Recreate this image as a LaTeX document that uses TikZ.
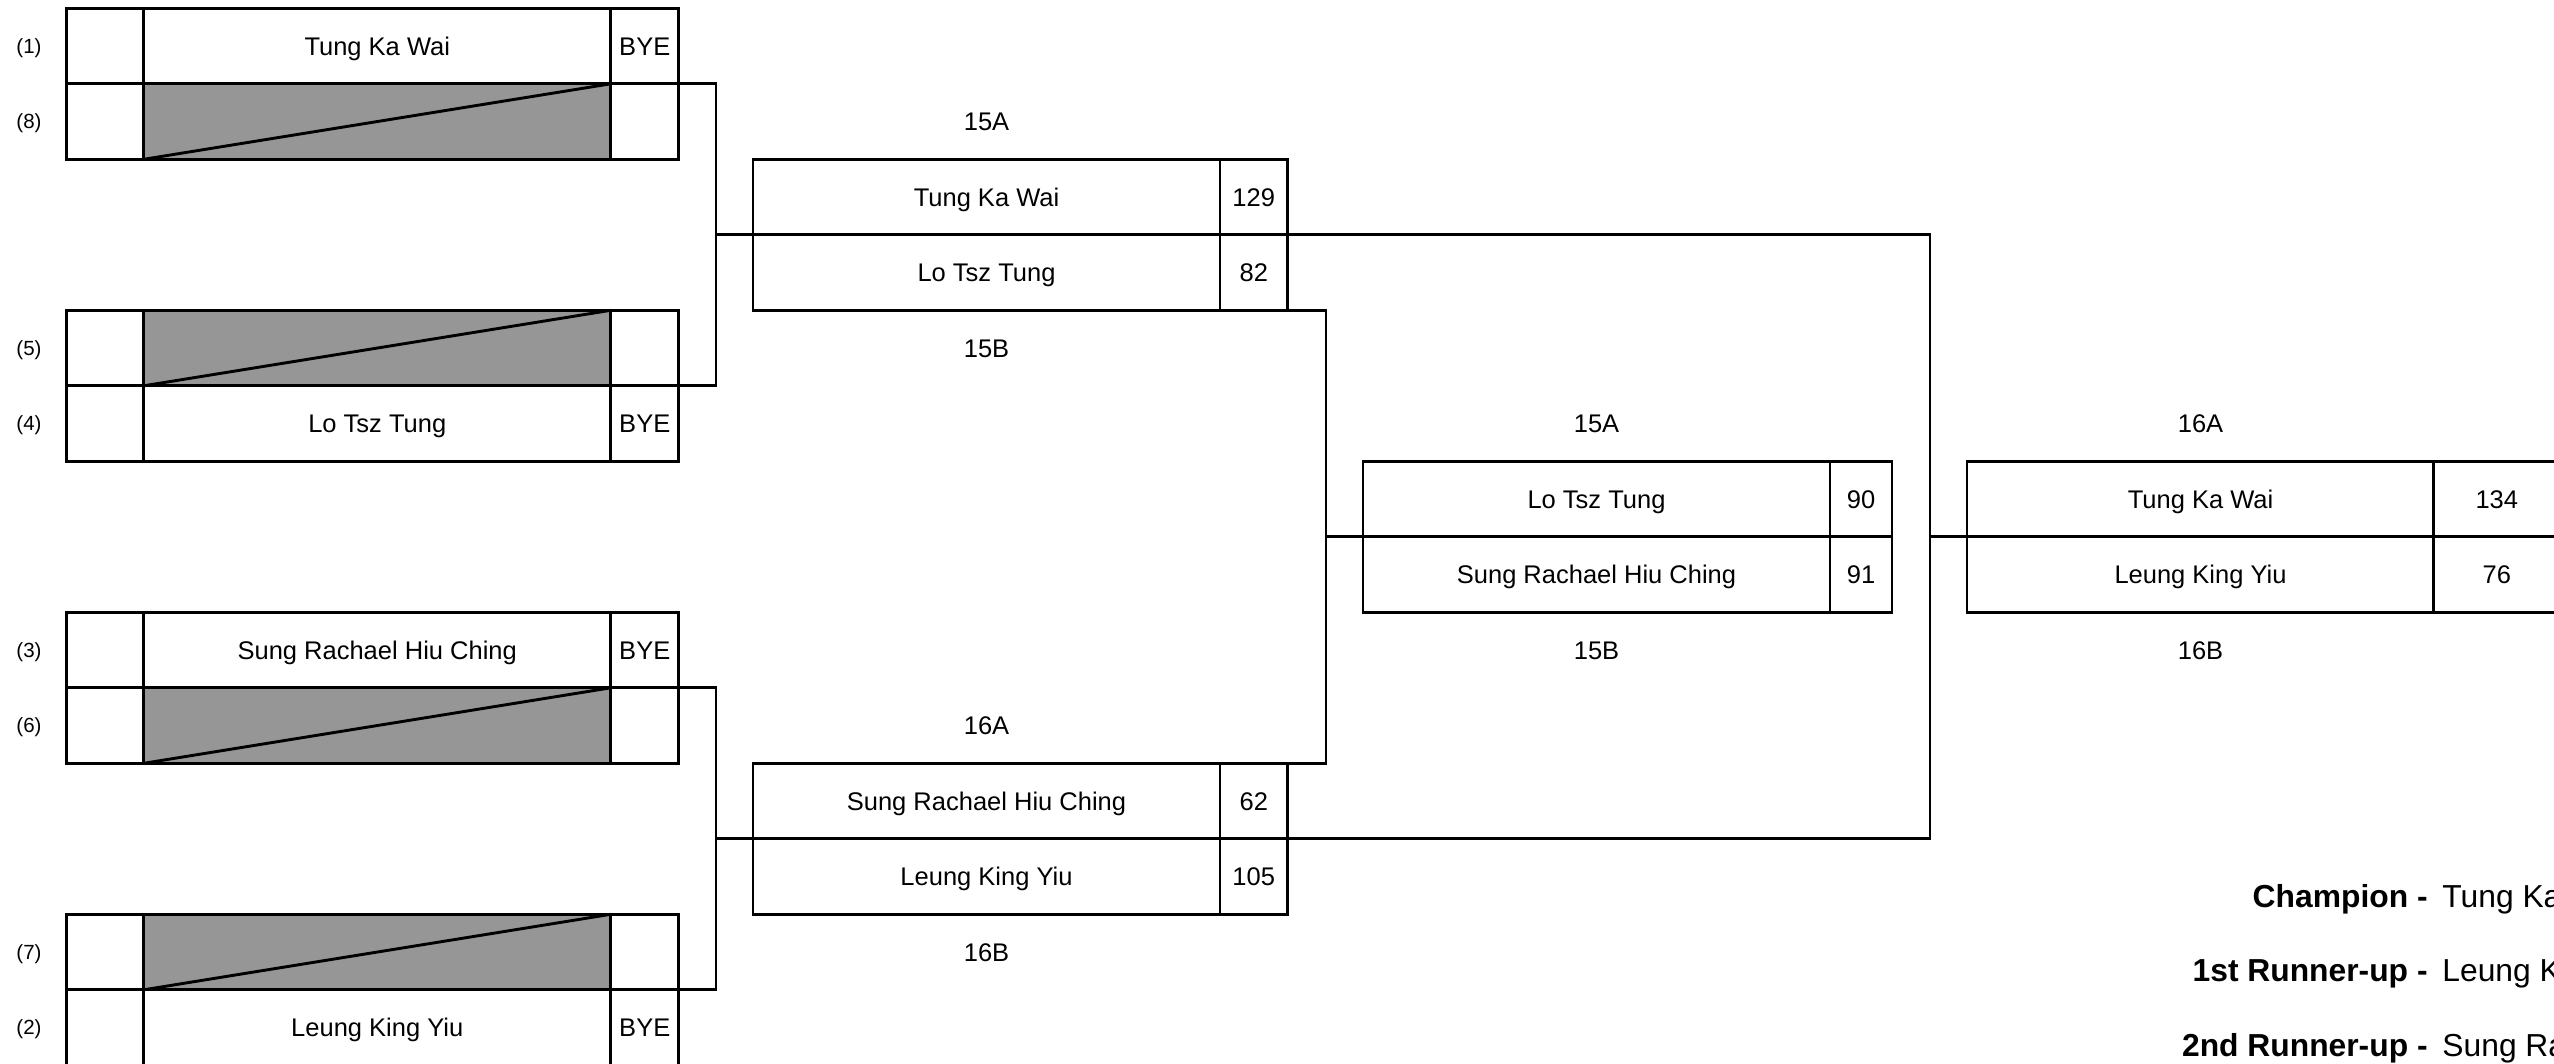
\documentclass[tikz,border=0pt]{standalone}
\usepackage{fontspec}
\setmainfont{Liberation Sans}
\usepackage{pgf, tikz}
\pgfdeclarelayer{edgelayer}
\pgfdeclarelayer{nodelayer}
\pgfsetlayers{edgelayer,nodelayer,main}
\definecolor{byegray}{RGB}{150,150,150}
\tikzstyle{edge}=[draw=black, line width=1.45pt]
\tikzstyle{cell}=[rectangle, draw=black, line width=1.45pt, inner sep=0pt, outer sep=0pt, minimum height=37.75pt, text height=9.1pt, text depth=0pt, font=\fontsize{12.75}{15}\selectfont]
\tikzstyle{seedcell}=[cell, minimum width=38.5pt]
\tikzstyle{namecell}=[cell, minimum width=233.5pt]
\tikzstyle{scorecell}=[cell, minimum width=33.75pt]
\tikzstyle{byecell}=[namecell, fill=byegray]
\tikzstyle{seed}=[inner sep=0pt, text height=7.3pt, text depth=0pt, font=\fontsize{10.25}{12}\selectfont]
\tikzstyle{matchlabel}=[inner sep=0pt, text height=9.1pt, text depth=0pt, font=\fontsize{12.75}{15}\selectfont]
\tikzstyle{podium}=[inner sep=0pt, font=\fontsize{15.9}{18}\selectfont]

\begin{document}
\begin{tikzpicture}[x=0.5pt, y=-0.5pt]
			\useasboundingbox (0, 0) rectangle (2554, 1064);
			\begin{pgfonlayer}{nodelayer}
				% first round
				\node [style=seed] (l1) at (29, 46.05) {(1)};
				\node [style=seedcell] (e1) at (105, 46.05) {};
				\node [style=namecell] (n1) at (377.25, 46.05) {Tung Ka Wai};
				\node [style=scorecell] (b1) at (644.75, 46.05) {BYE};
				\node [style=seed] (l8) at (29, 121.55) {(8)};
				\node [style=seedcell] (e8) at (105, 121.55) {};
				\node [style=byecell] (n8) at (377.25, 121.55) {};
				\node [style=scorecell] (b8) at (644.75, 121.55) {};
				\node [style=seed] (l5) at (29, 348.05) {(5)};
				\node [style=seedcell] (e5) at (105, 348.05) {};
				\node [style=byecell] (n5) at (377.25, 348.05) {};
				\node [style=scorecell] (b5) at (644.75, 348.05) {};
				\node [style=seed] (l4) at (29, 423.55) {(4)};
				\node [style=seedcell] (e4) at (105, 423.55) {};
				\node [style=namecell] (n4) at (377.25, 423.55) {Lo Tsz Tung};
				\node [style=scorecell] (b4) at (644.75, 423.55) {BYE};
				\node [style=seed] (l3) at (29, 650.05) {(3)};
				\node [style=seedcell] (e3) at (105, 650.05) {};
				\node [style=namecell] (n3) at (377.25, 650.05) {Sung Rachael Hiu Ching};
				\node [style=scorecell] (b3) at (644.75, 650.05) {BYE};
				\node [style=seed] (l6) at (29, 725.55) {(6)};
				\node [style=seedcell] (e6) at (105, 725.55) {};
				\node [style=byecell] (n6) at (377.25, 725.55) {};
				\node [style=scorecell] (b6) at (644.75, 725.55) {};
				\node [style=seed] (l7) at (29, 952.05) {(7)};
				\node [style=seedcell] (e7) at (105, 952.05) {};
				\node [style=byecell] (n7) at (377.25, 952.05) {};
				\node [style=scorecell] (b7) at (644.75, 952.05) {};
				\node [style=seed] (l2) at (29, 1027.55) {(2)};
				\node [style=seedcell] (e2) at (105, 1027.55) {};
				\node [style=namecell] (n2) at (377.25, 1027.55) {Leung King Yiu};
				\node [style=scorecell] (b2) at (644.75, 1027.55) {BYE};
				% second round
				\node [style=matchlabel] (h1) at (986.5, 121.55) {15A};
				\node [style=namecell] (t1) at (986.5, 197.05) {Tung Ka Wai};
				\node [style=scorecell] (u1) at (1253.75, 197.05) {129};
				\node [style=namecell] (t2) at (986.5, 272.55) {Lo Tsz Tung};
				\node [style=scorecell] (u2) at (1253.75, 272.55) {82};
				\node [style=matchlabel] (h2) at (986.5, 348.05) {15B};
				\node [style=matchlabel] (h3) at (986.5, 725.55) {16A};
				\node [style=namecell] (t3) at (986.5, 801.05) {Sung Rachael Hiu Ching};
				\node [style=scorecell] (u3) at (1253.75, 801.05) {62};
				\node [style=namecell] (t4) at (986.5, 876.55) {Leung King Yiu};
				\node [style=scorecell] (u4) at (1253.75, 876.55) {105};
				\node [style=matchlabel] (h4) at (986.5, 952.05) {16B};
				% third place
				\node [style=matchlabel] (h5) at (1596.5, 423.55) {15A};
				\node [style=namecell] (w1) at (1596.5, 499.05) {Lo Tsz Tung};
				\node [style=scorecell, minimum width=31pt] (x1) at (1861, 499.05) {90};
				\node [style=namecell] (w2) at (1596.5, 574.55) {Sung Rachael Hiu Ching};
				\node [style=scorecell, minimum width=31pt] (x2) at (1861, 574.55) {91};
				\node [style=matchlabel] (h6) at (1596.5, 650.05) {15B};
				% final
				\node [style=matchlabel] (h7) at (2200.5, 423.55) {16A};
				\node [style=namecell] (f1) at (2200.5, 499.05) {Tung Ka Wai};
				\node [style=scorecell, minimum width=63.25pt] (g1) at (2496.75, 499.05) {134};
				\node [style=namecell] (f2) at (2200.5, 574.55) {Leung King Yiu};
				\node [style=scorecell, minimum width=63.25pt] (g2) at (2496.75, 574.55) {76};
				\node [style=matchlabel] (h8) at (2200.5, 650.05) {16B};
				% results
				\node [style=podium, anchor=base east] (p1) at (2428, 907.3) {\bfseries Champion -};
				\node [style=podium, anchor=base west] (q1) at (2442, 907.3) {Tung Ka Wai};
				\node [style=podium, anchor=base east] (p2) at (2428, 981.7) {\bfseries 1st Runner-up -};
				\node [style=podium, anchor=base west] (q2) at (2442, 981.7) {Leung King Yiu};
				\node [style=podium, anchor=base east] (p3) at (2428, 1056.7) {\bfseries 2nd Runner-up -};
				\node [style=podium, anchor=base west] (q3) at (2442, 1056.7) {Sung Rachael Hiu Ching};
			\end{pgfonlayer}
			\begin{pgfonlayer}{edgelayer}
				\coordinate (j1) at (716, 234.8);
				\coordinate (j2) at (716, 838.8);
				\coordinate (j3) at (1930, 536.8);
				\coordinate (j4) at (1326, 536.8);
				\draw [style=edge] (b1.south east) -| (j1) |- (b5.south east);
				\draw [style=edge] (j1) to (t1.south west);
				\draw [style=edge] (b3.south east) -| (j2) |- (b7.south east);
				\draw [style=edge] (j2) to (t3.south west);
				\draw [style=edge] (u1.south east) -| (j3) |- (u3.south east);
				\draw [style=edge] (j3) to (f1.south west);
				\draw [style=edge] (u2.south east) -| (j4) |- (u3.north east);
				\draw [style=edge] (j4) to (w1.south west);
			\end{pgfonlayer}
			\draw [style=edge] (n8.south west) to (n8.north east);
			\draw [style=edge] (n5.south west) to (n5.north east);
			\draw [style=edge] (n6.south west) to (n6.north east);
			\draw [style=edge] (n7.south west) to (n7.north east);
		\end{tikzpicture}
\end{document}
